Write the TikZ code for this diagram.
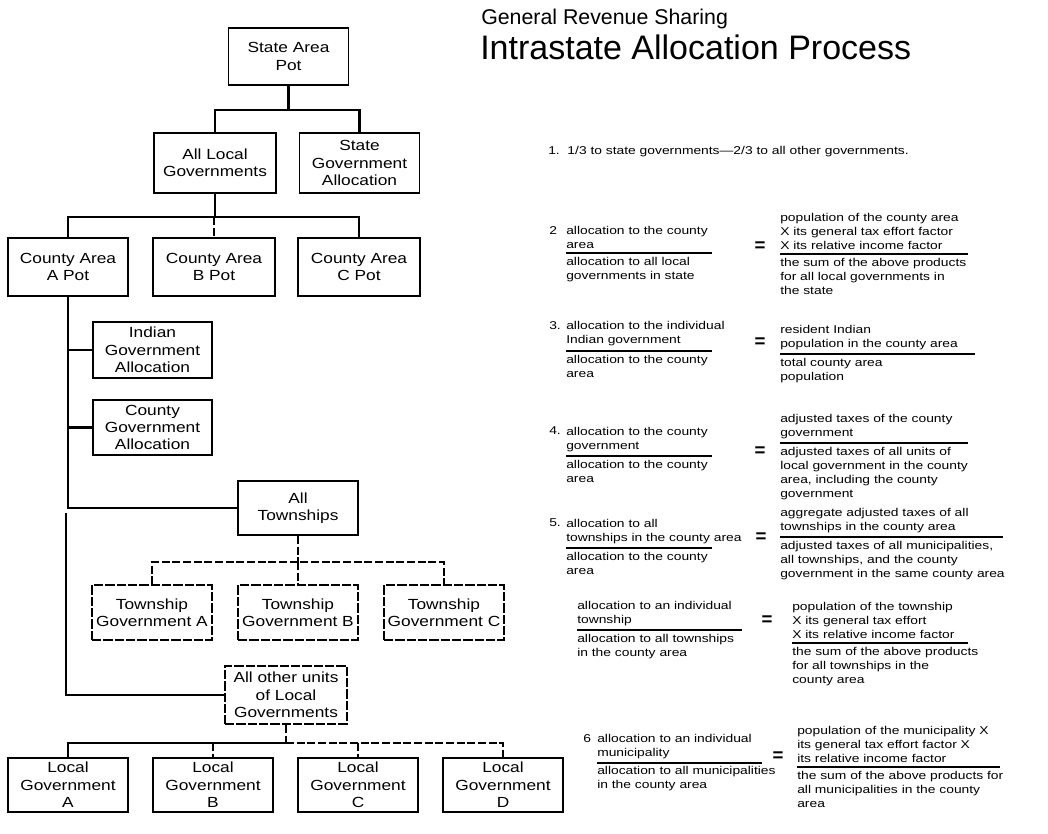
\documentclass[tikz,border=0pt]{standalone}
\usepackage{fontspec}
\setmainfont{Liberation Sans}
\newfontfamily\boxfam[FakeStretch=1.18]{Liberation Sans}
\newfontfamily\itemfam[FakeStretch=1.22]{Liberation Sans}
\newcommand\bxf{\boxfam\fontsize{11}{13}\selectfont}
\newcommand\itf{\itemfam\fontsize{8.5}{10.5}\selectfont}
\begin{document}
\begin{tikzpicture}[x=0.75pt,y=-0.75pt,
  box/.style={draw, line width=1.4pt, align=center, font=\bxf, inner sep=0pt,
              minimum width=90pt, minimum height=43pt},
  dbox/.style={box, dash pattern=on 7pt off 1.5pt},
  conn/.style={line width=2pt},
  dconn/.style={line width=2pt, dash pattern=on 6pt off 2pt},
  ft/.style={font=\itf, align=left, inner sep=0pt},
  eqs/.style={font=\fontsize{14}{14}\selectfont\bfseries, inner sep=0pt},
  frule/.style={line width=0.9pt},
  ttl/.style={inner sep=0pt, anchor=base west}]
\fill[white] (0,0) rectangle (1048,833);
\useasboundingbox (0,0) rectangle (1048,833);

% ---------- title ----------
\node[ttl] (t1) at (481,24) {\fontsize{16}{16}\selectfont General Revenue Sharing};
\node[ttl] (t2) at (480,59) {\fontsize{25.5}{25.5}\selectfont Intrastate Allocation Process};

% ---------- boxes ----------
\node[box, minimum height=43pt] (sap) at (288.5,56.5) {State Area\\Pot};
\node[box, minimum width=91.5pt, minimum height=45pt] (alg) at (215,163) {All Local\\Governments};
\node[box, minimum height=45pt] (sga) at (359.5,163) {State\\Government\\Allocation};
\node[box, minimum height=43.5pt] (caa) at (68,267) {County Area\\A Pot};
\node[box, minimum width=91.5pt, minimum height=43.5pt] (cab) at (214,267) {County Area\\B Pot};
\node[box, minimum width=91.5pt, minimum height=43.5pt] (cac) at (359,267) {County Area\\C Pot};
\node[box, minimum width=89pt, minimum height=42pt] (iga) at (152.5,350) {Indian\\Government\\Allocation};
\node[box, minimum width=89pt, minimum height=41pt] (cga) at (152.5,427.5) {County\\Government\\Allocation};
\node[box, minimum height=40.5pt] (atw) at (298,508) {All\\Townships};
\node[dbox, minimum height=41pt] (tga) at (152,612.5) {Township\\Government A};
\node[dbox, minimum height=41pt] (tgb) at (298,612.5) {Township\\Government B};
\node[dbox, minimum height=41pt] (tgc) at (444,612.5) {Township\\Government C};
\node[dbox, minimum width=91.5pt, minimum height=43.5pt] (aou) at (286,695) {All other units\\of Local\\Governments};
\node[box, minimum height=40.5pt] (lga) at (68,785) {Local\\Government\\A};
\node[box, minimum height=40.5pt] (lgb) at (213,785) {Local\\Government\\B};
\node[box, minimum height=40.5pt] (lgc) at (358,785) {Local\\Government\\C};
\node[box, minimum height=40.5pt] (lgd) at (503,785) {Local\\Government\\D};

% ---------- connectors ----------
\coordinate (j1) at (288.5,110);
\draw[conn] (sap.south) -- (j1);
\draw[conn] (alg.north) |- (j1) -| (sga.north);

\coordinate (j2) at (215,217);
\draw[conn] (alg.south) -- (j2);
\draw[conn] (caa.north) |- (j2) -| (cac.north);
\draw[dconn] (cab.north |- j2) -- (cab.north);

\draw[conn] (caa.south) |- (atw.west);
\draw[conn] (caa.south |- iga.west) -- (iga.west);
\draw[conn] (caa.south |- cga.west) -- (cga.west);
\coordinate (tr2) at (66,513);
\draw[conn] (tr2) |- (aou.west);

\coordinate (j3) at (298,562);
\draw[dconn] (atw.south) -- (j3);
\draw[dconn] (tga.north) |- (j3) -| (tgc.north);
\draw[dconn] (j3) -- (tgb.north);

\coordinate (j4) at (286,743);
\draw[dconn] (aou.south) -- (j4);
\draw[conn] (lga.north) |- (j4);
\draw[dconn] (j4) -| (lgd.north);
\draw[dconn] (lgb.north |- j4) -- (lgb.north);
\draw[dconn] (lgc.north |- j4) -- (lgc.north);

% ---------- item 1 ----------
\node[ft, anchor=west] (i1) at (548,152) {1.\ \ 1/3 to state governments—2/3 to all other governments.};

% ---------- item 2 ----------
\node[ft, anchor=south west] (a2) at (566,249) {allocation to the county\\area};
\path (a2.north west) ++(-17,0) node[ft, anchor=north west] (n2) {2};
\draw[frule] (566,253) -- (712,253);
\node[ft, anchor=north west] (b2) at (566,257) {allocation to all local\\governments in state};
\node[eqs] (e2) at (760,247) {=};
\node[ft, anchor=south west] (c2) at (780,250) {population of the county area\\X its general tax effort factor\\X its relative income factor};
\draw[frule] (780,254) -- (968,254);
\node[ft, anchor=north west] (d2) at (780,258) {the sum of the above products\\for all local governments in\\the state};

% ---------- item 3 ----------
\node[ft, anchor=south west] (a3) at (566,346) {allocation to the individual\\Indian government};
\path (a3.north west) ++(-17,0) node[ft, anchor=north west] (n3) {3.};
\draw[frule] (566,351) -- (712,351);
\node[ft, anchor=north west] (b3) at (566,355) {allocation to the county\\area};
\node[eqs] (e3) at (760,343) {=};
\node[ft, anchor=south west] (c3) at (780,350) {resident Indian\\population in the county area};
\draw[frule] (780,354) -- (975,354);
\node[ft, anchor=north west] (d3) at (780,358) {total county area\\population};

% ---------- item 4 ----------
\node[ft, anchor=south west] (a4) at (566,452) {allocation to the county\\government};
\path (a4.north west) ++(-17,0) node[ft, anchor=north west] (n4) {4.};
\draw[frule] (566,456) -- (712,456);
\node[ft, anchor=north west] (b4) at (566,460) {allocation to the county\\area};
\node[eqs] (e4) at (760,452) {=};
\node[ft, anchor=south west] (c4) at (780,439) {adjusted taxes of the county\\government};
\draw[frule] (780,443) -- (968,443);
\node[ft, anchor=north west] (d4) at (780,447) {adjusted taxes of all units of\\local government in the county\\area, including the county\\government};

% ---------- item 5 ----------
\node[ft, anchor=south west] (a5) at (566,544) {allocation to all\\townships in the county area};
\path (a5.north west) ++(-17,0) node[ft, anchor=north west] (n5) {5.};
\draw[frule] (566,548) -- (712,548);
\node[ft, anchor=north west] (b5) at (566,552) {allocation to the county\\area};
\node[eqs] (e5) at (761,538) {=};
\node[ft, anchor=south west] (c5) at (780,533) {aggregate adjusted taxes of all\\townships in the county area};
\draw[frule] (780,537) -- (1003,537);
\node[ft, anchor=north west] (d5) at (780,541) {adjusted taxes of all municipalities,\\all townships, and the county\\government in the same county area};

% ---------- item 5b ----------
\node[ft, anchor=south west] (a5b) at (577,626) {allocation to an individual\\township};
\draw[frule] (577,630) -- (742,630);
\node[ft, anchor=north west] (b5b) at (577,634) {allocation to all townships\\in the county area};
\node[eqs] (e5b) at (767,621) {=};
\node[ft, anchor=south west] (c5b) at (792,639) {population of the township\\X its general tax effort\\X its relative income factor};
\draw[frule] (792,643) -- (968,643);
\node[ft, anchor=north west] (d5b) at (792,647) {the sum of the above products\\for all townships in the\\county area};

% ---------- item 6 ----------
\node[ft, anchor=south west] (a6) at (597,759) {allocation to an individual\\municipality};
\path (a6.north west) ++(-14,0) node[ft, anchor=north west] (n6) {6};
\draw[frule] (597,763) -- (762,763);
\node[ft, anchor=north west] (b6) at (597,766) {allocation to all municipalities\\in the county area};
\node[eqs] (e6) at (778,757) {=};
\node[ft, anchor=south west] (c6) at (797,763) {population of the municipality X\\its general tax effort factor X\\its relative income factor};
\draw[frule] (797,767) -- (1000,767);
\node[ft, anchor=north west] (d6) at (797,771) {the sum of the above products for\\all municipalities in the county\\area};
\end{tikzpicture}
\end{document}
